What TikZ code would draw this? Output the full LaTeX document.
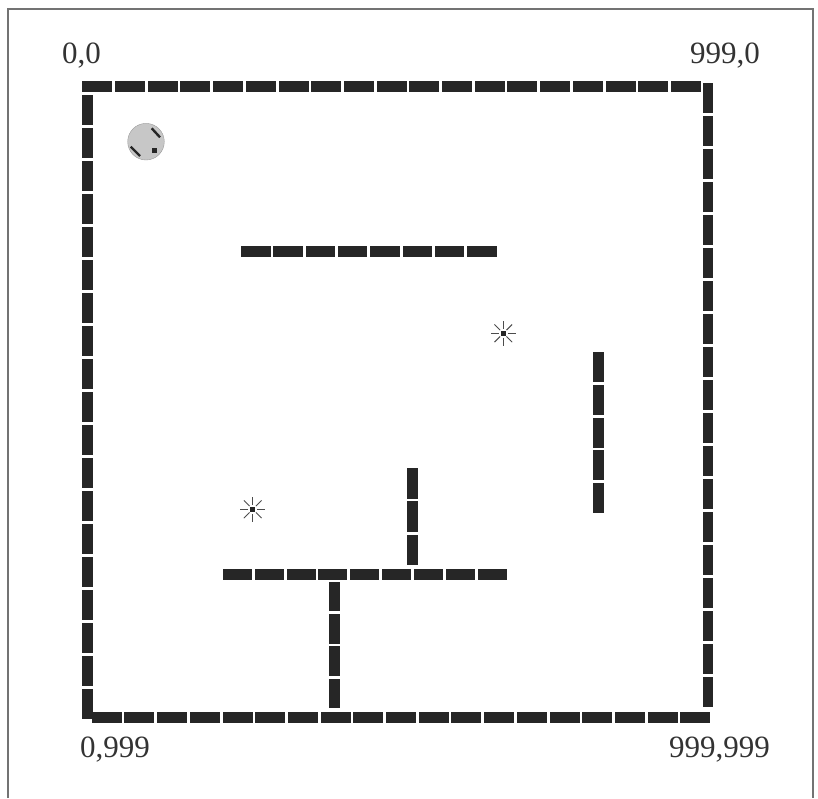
\documentclass[tikz,border=0pt]{standalone}
\usepackage{fontspec}
\setmainfont{Liberation Serif}
\usepackage{tikz}

\tikzset{
  brick/.style={fill=black!85},
  corner/.style={font=\fontsize{31}{36}\selectfont, inner sep=0pt, text=black!80},
  robot/.style={circle, draw=black!40, fill=black!22, minimum size=36.6pt, inner sep=0pt},
  wheel/.style={draw=black!85, line width=2.4pt},
  goal/.style={fill=black!85, minimum size=4.5pt, inner sep=0pt},
  ray/.style={draw=black!70, line width=0.9pt},
}

\begin{document}
\begin{tikzpicture}[x=1pt, y=-1pt]
\useasboundingbox (0,0) rectangle (818,798);
% page frame, open at the bottom
\draw[black!55, line width=1.2pt] (8,798) -- (8,9) -- (813,9) -- (813,798);

% outer walls
\foreach \i in {0,...,18} \fill[brick] ({82.3+32.7*\i},81) rectangle ++(30,11);
\foreach \i in {0,...,18} \fill[brick] (702.5,{83+33*\i}) rectangle ++(10.5,30.3);
\foreach \i in {0,...,18} \fill[brick] ({91.7+32.7*\i},711.5) rectangle ++(30,11);
\foreach \i in {0,...,18} \fill[brick] (82.3,{95+33*\i}) rectangle ++(10.5,30.3);

% inner walls
\foreach \i in {0,...,7} \fill[brick] ({241+32.3*\i},246) rectangle ++(29.5,10.5);
\foreach \i in {0,...,8} \fill[brick] ({222.7+31.9*\i},568.5) rectangle ++(29,11);
\foreach \i in {0,...,4} \fill[brick] (593,{351.7+32.9*\i}) rectangle ++(11,30);
\foreach \i in {0,...,2} \fill[brick] (406.7,{468.3+33.1*\i}) rectangle ++(11,30.5);
\foreach \i in {0,...,3} \fill[brick] (328.5,{581.7+32.3*\i}) rectangle ++(11.5,29.5);

% robot
\node[robot] (robot) at (146,141.7) {};
\draw[wheel] (151.7,128.3) -- (160,137.3);
\draw[wheel] (130.7,146.7) -- (140,156);
\fill[black!85] (151.8,147.5) rectangle ++(5,5);

% goals
\node[goal] (goalA) at (503.3,333.3) {};
\node[goal] (goalB) at (252.7,509.3) {};
\foreach \g in {goalA,goalB}
  \foreach \a in {0,45,...,315}
    \draw[ray] ([shift={(\a:4.5)}]\g.center) -- ([shift={(\a:12.5)}]\g.center);

% corner labels
\node[corner, anchor=base west] (tl) at (62,63) {0,0};
\node[corner, anchor=base east] (tr) at (760,63) {999,0};
\node[corner, anchor=base west] (bl) at (80,757) {0,999};
\node[corner, anchor=base east] (br) at (770,757) {999,999};
\end{tikzpicture}
\end{document}
